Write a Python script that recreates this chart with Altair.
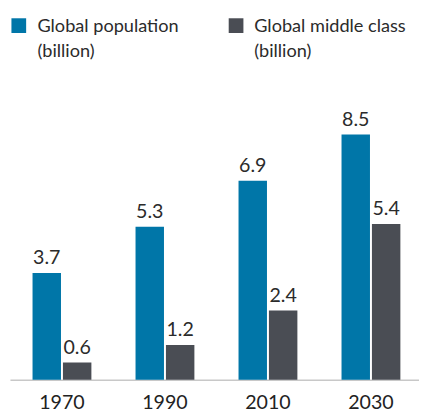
import altair as alt
import pandas as pd

years = ["1970", "1990", "2010", "2030"]
series = ["Global population", "Global middle class"]
population = [3.7, 5.3, 6.9, 8.5]
middle_class = [0.6, 1.2, 2.4, 5.4]
colors = ["#0076A8", "#4A4D54"]
FONT = "Lato"

rows = []
for i, y in enumerate(years):
    rows.append({"year": y, "series": series[0], "value": population[i]})
    rows.append({"year": y, "series": series[1], "value": middle_class[i]})
df = pd.DataFrame(rows)

x_enc = alt.X("year:N", sort=years, title=None,
              scale=alt.Scale(paddingInner=45/105, paddingOuter=0.2, align=0.548),
              axis=alt.Axis(labelAngle=0, ticks=False, labelFontSize=20, labelFont=FONT,
                            labelColor="#222222", labelPadding=13, domainColor="#C8C8C8",
                            domainWidth=1.5, grid=False))
xo = alt.XOffset("series:N", sort=series, scale=alt.Scale(paddingInner=0.0645, paddingOuter=0))
y_enc = alt.Y("value:Q", scale=alt.Scale(domain=[0, 12.75], nice=False), axis=None)
color_enc = alt.Color("series:N", sort=series, scale=alt.Scale(domain=series, range=colors), legend=None)

base = alt.Chart(df)
bars = base.mark_bar().encode(x=x_enc, xOffset=xo, y=y_enc, color=color_enc)
labels = base.mark_text(font=FONT, fontSize=20, color="#2B2B2B", baseline="alphabetic", dy=-9).encode(
    x=x_enc, xOffset=xo, y=y_enc, text=alt.Text("value:Q", format=".1f"))

legend_layers = []
sq_x = [9, 230.5]
tx_x = [28, 249]
for i, s in enumerate(series):
    ldf = pd.DataFrame({"label": [[s, "(billion)"]]})
    sq = alt.Chart(ldf).mark_square(size=225, color=colors[i], opacity=1).encode(
        x=alt.value(sq_x[i]), y=alt.value(14))
    tx = alt.Chart(ldf).mark_text(font=FONT, fontSize=18.5, color="#2B2B2B", align="left",
                                  baseline="alphabetic", lineHeight=25).encode(
        x=alt.value(tx_x[i]), y=alt.value(21), text="label:N")
    legend_layers += [sq, tx]

chart = alt.layer(bars, labels, *legend_layers).properties(
    width=417, height=375,
    padding={"left": 2, "top": 0, "right": 0, "bottom": 0},
).configure_view(stroke=None)

chart.save("out.html", embed_options={"renderer": "svg", "actions": False})
